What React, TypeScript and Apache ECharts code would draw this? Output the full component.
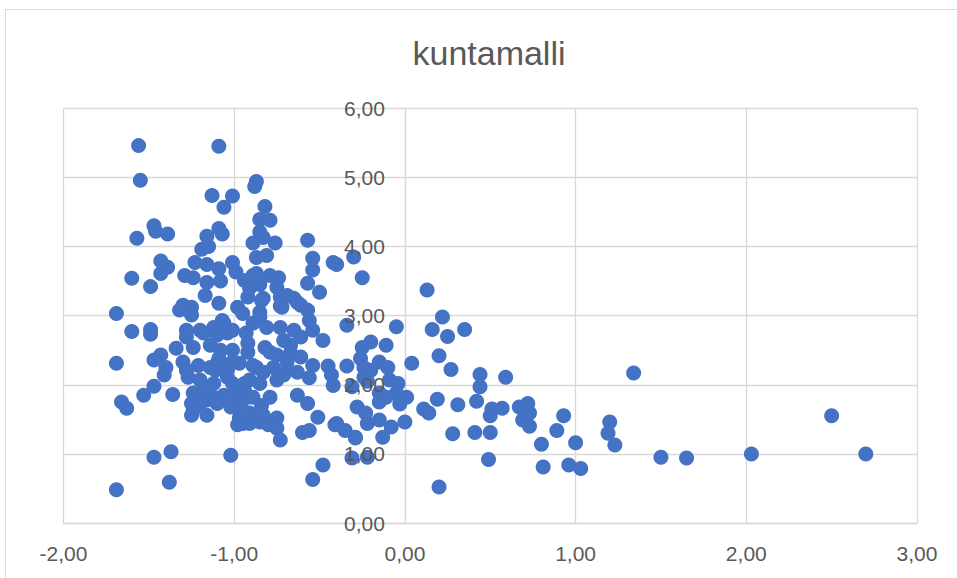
import React, { useEffect, useRef } from "react";
import * as echarts from "echarts";

const TITLE = "kuntamalli";
const X_MIN = -2;
const X_MAX = 3;
const X_STEP = 1;
const Y_MIN = 0;
const Y_MAX = 6;
const Y_STEP = 1;

const pointsLeft: [number, number][] = [
  [-1.56, 5.46], [-1.55, 4.96], [-1.57, 4.12], [-1.47, 4.30], [-1.46, 4.22], [-1.39, 4.18],
  [-1.60, 3.54], [-1.49, 3.42], [-1.43, 3.79], [-1.39, 3.70], [-1.43, 3.61], [-1.69, 3.03],
  [-1.60, 2.77], [-1.49, 2.80], [-1.49, 2.73], [-1.69, 2.31], [-1.47, 2.36], [-1.43, 2.43],
  [-1.40, 2.25], [-1.41, 2.14], [-1.47, 1.98], [-1.53, 1.85], [-1.36, 1.86], [-1.66, 1.75],
  [-1.63, 1.66], [-1.47, 0.95], [-1.37, 1.03], [-1.38, 0.59], [-1.69, 0.48], [-1.34, 2.53],
];

const pointsUpper: [number, number][] = [
  [-1.09, 5.45], [-0.87, 4.94], [-0.88, 4.87], [-1.13, 4.74], [-1.01, 4.73], [-1.06, 4.57],
  [-0.82, 4.58], [-0.85, 4.39], [-0.79, 4.38], [-1.09, 4.26], [-1.07, 4.18], [-1.16, 4.15],
  [-0.85, 4.21], [-0.83, 4.13], [-0.76, 4.05], [-0.89, 4.05], [-0.57, 4.09], [-1.19, 3.96],
  [-1.15, 4.00], [-1.23, 3.77], [-1.16, 3.74], [-1.09, 3.68], [-1.01, 3.77], [-0.99, 3.63],
  [-0.87, 3.84], [-0.81, 3.87], [-1.29, 3.58], [-1.24, 3.55], [-1.16, 3.48], [-1.08, 3.50],
  [-0.94, 3.51], [-0.87, 3.61], [-0.85, 3.45], [-0.79, 3.58], [-0.74, 3.55], [-0.75, 3.41],
  [-0.73, 3.27], [-0.73, 3.14], [-0.91, 3.40], [-0.83, 3.25], [-0.69, 3.29], [-0.72, 3.12],
  [-0.65, 3.25], [-0.63, 3.19], [-0.57, 3.08], [-0.54, 3.83], [-0.54, 3.66], [-0.57, 3.47],
  [-0.50, 3.34], [-0.42, 3.77], [-0.40, 3.74], [-0.30, 3.85], [-0.25, 3.55], [-1.17, 3.29],
  [-1.09, 3.18], [-1.30, 3.15], [-1.32, 3.08], [-1.25, 3.12], [-1.25, 3.01], [-0.98, 3.12],
  [-0.95, 3.03], [-0.92, 3.27], [-0.84, 3.22], [-0.85, 3.05], [-0.61, 3.15], [-1.07, 2.93],
  [-0.89, 3.58],
];

const pointsMiddle: [number, number][] = [
  [-1.28, 2.69], [-1.20, 2.79], [-1.12, 2.83], [-1.18, 2.75], [-1.10, 2.72], [-1.28, 2.79],
  [-1.24, 2.54], [-1.14, 2.57], [-1.08, 2.50], [-1.04, 2.75], [-1.01, 2.79], [-1.06, 2.89],
  [-1.01, 2.50], [-0.93, 2.75], [-0.92, 2.47], [-0.92, 2.60], [-0.89, 2.89], [-0.85, 2.98],
  [-0.81, 2.83], [-0.73, 2.83], [-0.65, 2.79], [-0.56, 2.93], [-0.54, 2.79], [-0.48, 2.64],
  [-0.82, 2.54], [-0.71, 2.64], [-0.61, 2.69], [-0.67, 2.57], [-0.79, 2.47], [-0.75, 2.43],
  [-0.67, 2.46], [-0.61, 2.40], [-1.30, 2.33], [-1.27, 2.11], [-1.20, 2.07], [-1.28, 2.21],
  [-1.21, 2.28], [-1.14, 2.25], [-1.10, 2.31], [-1.11, 2.21], [-1.04, 2.21], [-1.09, 2.38],
  [-1.02, 2.31], [-0.97, 2.31], [-1.12, 2.02], [-1.04, 2.11], [-1.01, 2.02], [-0.99, 1.88],
  [-1.06, 1.85], [-1.12, 1.82], [-1.16, 1.78], [-1.24, 1.88], [-1.18, 1.92], [-1.20, 1.73],
  [-1.25, 1.73], [-1.24, 1.63], [-1.25, 1.56], [-1.16, 1.56], [-1.10, 1.73], [-1.02, 1.68],
  [-0.98, 1.78], [-0.98, 1.42], [-0.95, 1.44], [-0.91, 1.44], [-0.91, 1.59], [-0.97, 1.52],
  [-0.94, 1.92], [-0.92, 1.82], [-0.94, 2.02], [-0.91, 2.07], [-0.87, 2.25], [-0.83, 2.18],
  [-0.89, 2.28], [-0.85, 2.02], [-0.75, 2.07], [-0.79, 1.82], [-0.89, 1.82], [-0.84, 1.70],
  [-0.95, 1.63], [-0.85, 1.46], [-0.83, 1.56], [-0.80, 1.42], [-0.75, 1.52], [-0.75, 1.37],
  [-0.73, 1.20], [-0.77, 2.25], [-0.69, 2.21], [-0.63, 2.18], [-0.71, 2.14], [-0.69, 2.33],
  [-0.63, 1.85], [-0.57, 1.73], [-0.54, 2.28], [-0.56, 2.10], [-0.45, 2.27], [-0.43, 2.14],
  [-0.42, 1.99], [-0.51, 1.53], [-0.60, 1.31], [-0.56, 1.34], [-0.41, 1.42], [-0.35, 1.34],
  [-0.29, 1.24], [-0.48, 0.84], [-0.54, 0.63], [-1.02, 0.98],
];

const pointsCentre: [number, number][] = [
  [-0.34, 2.86], [-0.20, 2.62], [-0.25, 2.54], [-0.11, 2.57], [-0.26, 2.38], [-0.05, 2.84],
  [0.04, 2.31], [-0.34, 2.27], [-0.24, 2.25], [-0.20, 2.21], [-0.15, 2.33], [-0.10, 2.25],
  [-0.31, 1.97], [-0.24, 2.11], [-0.22, 2.05], [-0.09, 2.07], [-0.04, 2.02], [-0.05, 1.88],
  [-0.15, 1.88], [-0.15, 1.75], [0.01, 1.82], [-0.03, 1.72], [-0.28, 1.68], [-0.23, 1.59],
  [-0.22, 1.44], [-0.15, 1.49], [-0.08, 1.39], [0.00, 1.46], [-0.40, 1.44], [-0.29, 1.23],
  [-0.13, 1.24], [-0.31, 0.94], [-0.22, 0.95], [-0.11, 1.82],
];

const pointsRight: [number, number][] = [
  [0.13, 3.37], [0.22, 2.98], [0.16, 2.80], [0.25, 2.70], [0.35, 2.80], [0.20, 2.42],
  [0.27, 2.22], [0.44, 2.15], [0.44, 1.97], [0.59, 2.11], [0.19, 1.79], [0.31, 1.71],
  [0.42, 1.76], [0.11, 1.65], [0.14, 1.59], [0.51, 1.65], [0.50, 1.55], [0.57, 1.66],
  [0.67, 1.68], [0.72, 1.73], [0.73, 1.59], [0.69, 1.49], [0.73, 1.40], [0.93, 1.55],
  [0.89, 1.34], [0.80, 1.14], [1.00, 1.16], [0.81, 0.81], [0.96, 0.84], [1.03, 0.79],
  [1.20, 1.46], [1.19, 1.30], [1.23, 1.13], [1.34, 2.17], [0.28, 1.29], [0.41, 1.31],
  [0.50, 1.31], [0.49, 0.92], [0.20, 0.52], [1.50, 0.95], [1.65, 0.94], [2.03, 1.00],
  [2.50, 1.55], [2.70, 1.00],
];

const fmt = (v: number) => v.toFixed(2).replace(".", ",");

const GRID_LEFT = 63.5;
const GRID_RIGHT = 40;
const WIDTH = 957;

export default function App() {
  const ref = useRef<HTMLDivElement>(null);
  useEffect(() => {
    if (!ref.current) return;
    const chart = echarts.init(ref.current, null, { renderer: "svg" });
    const data = [...pointsLeft, ...pointsUpper, ...pointsMiddle, ...pointsCentre, ...pointsRight];
    const gridColor = "#d9d9d9";
    const labelColor = "#595959";
    const font = "'Liberation Sans', Arial, sans-serif";
    // y axis crosses the x axis at x = 0 (as in the original spreadsheet chart)
    const plotW = WIDTH - GRID_LEFT - GRID_RIGHT;
    const zeroOffset = ((0 - X_MIN) / (X_MAX - X_MIN)) * plotW;
    const yLabel = { formatter: fmt, color: labelColor, fontSize: 21, margin: 20, fontFamily: font };
    chart.setOption({
      animation: false,
      backgroundColor: "#ffffff",
      textStyle: { fontFamily: font },
      graphic: [
        {
          type: "rect",
          z: -10,
          shape: { x: 5.5, y: 9.5, width: 1200, height: 1200 },
          style: { fill: "none", stroke: gridColor, lineWidth: 1 },
        },
        {
          type: "text",
          x: 489,
          y: 53,
          style: {
            text: TITLE,
            fontFamily: font,
            fontSize: 34,
            fill: labelColor,
            align: "center",
            verticalAlign: "middle",
            textAlign: "center",
            textVerticalAlign: "middle",
          },
        },
      ],
      grid: { left: GRID_LEFT, right: GRID_RIGHT, top: 108.3, bottom: 55 },
      xAxis: {
        type: "value",
        min: X_MIN,
        max: X_MAX,
        interval: X_STEP,
        axisLine: { onZero: false, lineStyle: { color: gridColor, width: 1.3 } },
        axisTick: { show: false },
        axisLabel: { formatter: fmt, color: labelColor, fontSize: 21, margin: 20, fontFamily: font },
        splitLine: { show: true, lineStyle: { color: gridColor, width: 1.3 } },
      },
      yAxis: [
        {
          type: "value",
          position: "left",
          offset: -zeroOffset,
          min: Y_MIN,
          max: Y_MAX,
          interval: Y_STEP,
          axisLine: { show: true, onZero: false, lineStyle: { color: gridColor, width: 1.3 } },
          axisTick: { show: false },
          axisLabel: { show: false },
          splitLine: { show: true, lineStyle: { color: gridColor, width: 1.3 } },
        },
        {
          type: "value",
          position: "left",
          offset: -zeroOffset,
          z: 10,
          min: Y_MIN,
          max: Y_MAX,
          interval: Y_STEP,
          axisLine: { show: false, onZero: false },
          axisTick: { show: false },
          axisLabel: yLabel,
          splitLine: { show: false },
        },
      ],
      series: [
        {
          type: "scatter",
          yAxisIndex: 0,
          data,
          symbol: "circle",
          symbolSize: 15,
          itemStyle: { color: "#4472C4", opacity: 1 },
        },
      ],
    });
    return () => chart.dispose();
  }, []);
  return (
    <div
      ref={ref}
      style={{ position: "fixed", left: 0, top: 0, width: WIDTH, height: 578, background: "#fff" }}
    />
  );
}
